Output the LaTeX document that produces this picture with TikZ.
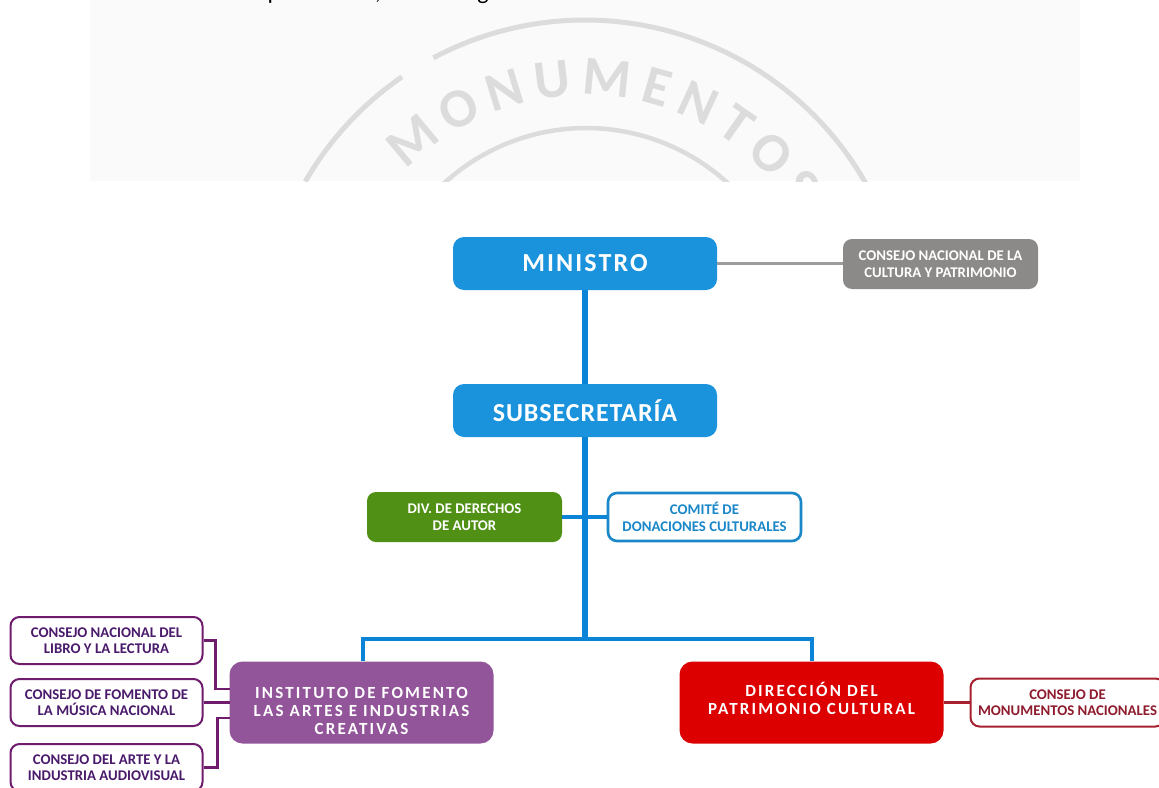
\documentclass[tikz,border=0pt]{standalone}
\usepackage{fontspec}
\setmainfont{Carlito}[BoldFont={Carlito Bold}]
\newfontfamily\spacedf{Carlito Bold}[LetterSpace=8]
\newfontfamily\spacedh{Carlito Bold}[LetterSpace=3.5]
\newfontfamily\spacedg{Carlito Bold}[LetterSpace=13]
\usetikzlibrary{decorations.text,calc}
\definecolor{cblue}{HTML}{1A92DC}
\definecolor{lblue}{HTML}{0A84D6}
\definecolor{cgray}{HTML}{8B8A88}
\definecolor{lgray}{HTML}{9C9C9C}
\definecolor{cgreen}{HTML}{4F9015}
\definecolor{cpurple}{HTML}{93559A}
\definecolor{dpurple}{HTML}{6F1C6E}
\definecolor{cred}{HTML}{DC0000}
\definecolor{dred}{HTML}{A6202F}
\definecolor{tblue}{HTML}{1A87C9}
\definecolor{tred}{HTML}{8E1B2E}
\definecolor{tpurple}{HTML}{4A1A6B}
\definecolor{stamp}{HTML}{DCDCDC}
\definecolor{paper}{HTML}{FAFAFA}
\tikzset{
  x=1pt,y=-1pt,
  solidbox/.style={rounded corners=11pt,inner sep=0pt,align=center,text=white,anchor=center},
  mainbox/.style={solidbox,fill=cblue,minimum width=264pt,minimum height=53pt},
  widebox/.style={solidbox,rounded corners=13pt,minimum width=264pt,minimum height=82pt,font=\spacedg\fontsize{17}{18}\selectfont},
  smallsolid/.style={solidbox,rounded corners=9pt,minimum width=195pt,minimum height=50pt,font=\bfseries\fontsize{14.8}{16.5}\selectfont},
  outlinebox/.style={rounded corners=9pt,fill=white,inner sep=0pt,align=center,font=\bfseries\fontsize{14.8}{16.5}\selectfont,anchor=center},
  pbox/.style={outlinebox,draw=dpurple,line width=2pt,text=tpurple,minimum width=192pt,minimum height=47pt},
  bluelink/.style={draw=lblue,line width=5.5pt},
  bluethin/.style={draw=lblue,line width=3.5pt},
  graylink/.style={draw=lgray,line width=2.4pt},
  plink/.style={draw=dpurple,line width=2.4pt},
  rlink/.style={draw=dred,line width=2.4pt},
  cutmark/.style={anchor=base,inner sep=0pt,text=black,font=\fontsize{24}{28}\selectfont},
}
\begin{document}
\begin{tikzpicture}
\useasboundingbox (0,0) rectangle (1159,787);
\fill[white] (0,0) rectangle (1159,787);
\begin{scope}
\clip (0,0) rectangle (1159,787);
\begin{scope}
\clip (90,0) rectangle (1080,181);
\fill[paper] (90,0) rectangle (1080,181);
\draw[stamp,line width=5pt,domain=124.5:150,samples=30] plot ({585+323*cos(\x)},{343-323*sin(\x)});
\draw[stamp,line width=5pt,domain=28:118,samples=60] plot ({585+323*cos(\x)},{343-323*sin(\x)});
\draw[stamp,line width=4.5pt,domain=20:160,samples=60] plot ({586+210*cos(\x)},{338-210*sin(\x)});
\path[decorate,decoration={text along path,text align={fit to path},
  text={|\bfseries\fontsize{55}{57}\selectfont\color{stamp}|MONUMENTOS}}]
  plot[domain=136:33,samples=60] ({585+248*cos(\x)},{343-248*sin(\x)});
\end{scope}
\node[cutmark] (p1) at (274,-1) {p};
\node[cutmark] (p2) at (378,-1) {,};
\node[cutmark] (p3) at (483,-1) {g};

\coordinate (hub) at (585,639);
\coordinate (hl) at (363,639);
\coordinate (hr) at (812,639);
\coordinate (i1) at (230,689);
\coordinate (i2) at (230,702.5);
\coordinate (i3) at (230,718);

\node[mainbox,font=\spacedf\fontsize{26}{28}\selectfont] (min) at (585,263.5) {MINISTRO};
\node[mainbox,font=\spacedh\fontsize{26}{28}\selectfont] (sub) at (585,410.5) {SUBSECRETARÍA};
\node[smallsolid,fill=cgray] (cons) at (940.5,264) {CONSEJO NACIONAL DE LA\\CULTURA Y PATRIMONIO};
\node[smallsolid,fill=cgreen] (div) at (464.5,517) {DIV. DE DERECHOS\\DE AUTOR};
\node[outlinebox,draw=tblue,line width=2.6pt,text=tblue,minimum width=193pt,minimum height=48pt] (com) at (704.5,517) {COMITÉ DE\\DONACIONES CULTURALES};
\node[widebox,fill=cpurple] (inst) at (361.5,702.5) {\rule{0pt}{28pt}INSTITUTO DE FOMENTO\\LAS ARTES E INDUSTRIAS\\CREATIVAS};
\node[widebox,fill=cred] (dir) at (811.5,702.5) {DIRECCIÓN DEL\\PATRIMONIO CULTURAL\rule[-8pt]{0pt}{1pt}};
\node[outlinebox,draw=dred,line width=2pt,text=tred,minimum width=194pt,minimum height=48pt] (mon) at (1067.5,702.5) {CONSEJO DE\\MONUMENTOS NACIONALES};
\node[pbox] (c1) at (106.5,640.5) {CONSEJO NACIONAL DEL\\LIBRO Y LA LECTURA};
\node[pbox] (c2) at (106.5,702.5) {CONSEJO DE FOMENTO DE\\LA MÚSICA NACIONAL};
\node[pbox] (c3) at (106.5,767.5) {CONSEJO DEL ARTE Y LA\\INDUSTRIA AUDIOVISUAL};

\draw[graylink] (min.east) -- (min.east -| cons.west);
\draw[bluelink] (min.south) -- (sub.north);
\draw[bluelink] (sub.south) -- (hub);
\draw[bluethin] (div.east) -- (com.west);
\draw[bluethin,line cap=rect] (hl) -- (hr);
\draw[bluethin] (hl) -- (inst.north -| hl);
\draw[bluethin] (hr) -- (dir.north -| hr);
\draw[plink] (c1.east) -- ++(12,0) |- (i1);
\draw[plink] (c2.east) -- (i2);
\draw[plink] (c3.east) -- ++(14,0) |- (i3);
\draw[rlink] (dir.east |- mon.west) -- (mon.west);
\end{scope}
\end{tikzpicture}
\end{document}
